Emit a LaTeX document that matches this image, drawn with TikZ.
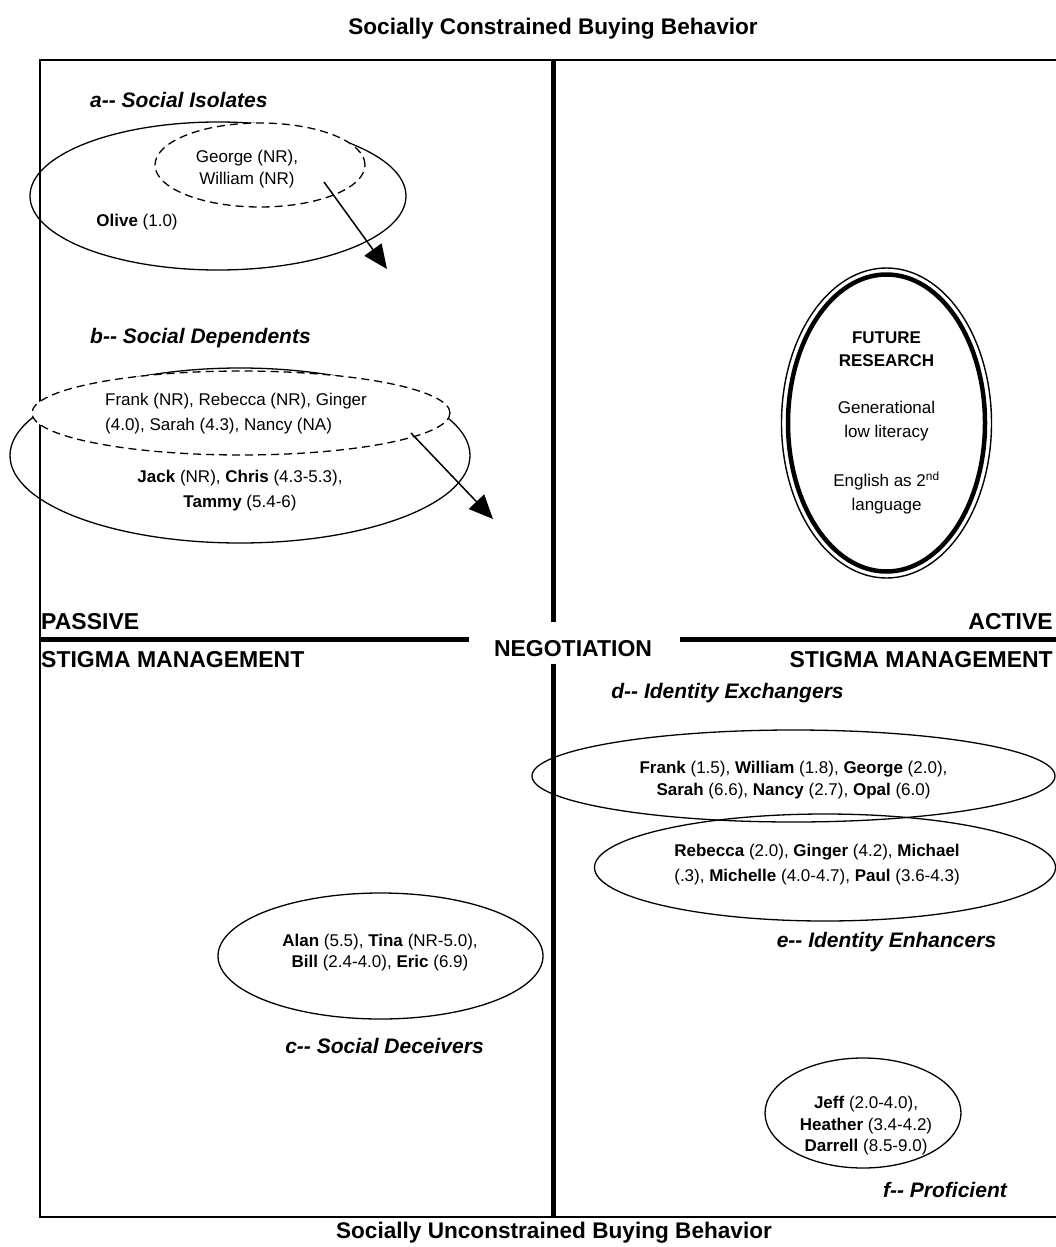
\documentclass[tikz,border=0pt]{standalone}
\usepackage{fontspec}
\setmainfont{Liberation Sans}
\usetikzlibrary{shapes.geometric,arrows.meta}
\tikzset{
 ell/.style={ellipse, draw, line width=1.3pt, inner sep=0pt, outer sep=0pt},
 dashedell/.style={ell, dash pattern=on 8pt off 5pt, fill=white},
 body/.style={font=\fontsize{17}{22}\selectfont, align=center, inner sep=0pt},
 grp/.style={font=\fontsize{21}{25}\selectfont\bfseries\itshape, inner sep=0pt},
 axislbl/.style={font=\fontsize{23}{27}\selectfont\bfseries, inner sep=0pt},
 ttl/.style={font=\fontsize{22.6}{27}\selectfont\bfseries, inner sep=0pt},
 arr/.style={line width=1.5pt, -{Triangle[length=24pt,width=21pt]}},
 heavy/.style={line width=5pt},
 framel/.style={line width=1.6pt},
}
\begin{document}
\begin{tikzpicture}[x=1pt,y=-1pt]
\useasboundingbox (0,0) rectangle (1056,1247);
% frame
\coordinate (fTR) at (1056,60);
\coordinate (fTL) at (40,60);
\coordinate (fBL) at (40,1217);
\coordinate (fBR) at (1056,1217);
\draw[framel] (fTR) -- (fTL) -- (fBL) -- (fBR);
% axes
\coordinate (vT) at (553,60);
\coordinate (vM1) at (553,622);
\coordinate (vM2) at (553,664);
\coordinate (vB) at (553,1217);
\draw[heavy] (vT) -- (vM1);
\draw[heavy] (vM2) -- (vB);
\coordinate (hL) at (40,639);
\coordinate (hM1) at (469,639);
\coordinate (hM2) at (680,639);
\coordinate (hR) at (1056,639);
\draw[heavy] (hL) -- (hM1);
\draw[heavy] (hM2) -- (hR);
% titles
\node[ttl] (ttop) at (553,29) {Socially Constrained Buying Behavior};
\node[ttl] (tbot) at (554,1233) {Socially Unconstrained Buying Behavior};
% axis labels
\node[axislbl, anchor=base west] (passive) at (41,629) {PASSIVE};
\node[axislbl, anchor=base west] (stigL) at (41,667) {STIGMA MANAGEMENT};
\node[axislbl, anchor=base] (nego) at (573,656) {NEGOTIATION};
\node[axislbl, anchor=base east] (active) at (1053,629) {ACTIVE};
\node[axislbl, anchor=base east] (stigR) at (1053,667) {STIGMA MANAGEMENT};
% a -- social isolates
\node[grp, anchor=base west] (ga) at (90,107) {a-{}- Social Isolates};
\node[ell, minimum width=376pt, minimum height=148pt] (ea) at (218,196) {};
\node[dashedell, minimum width=210pt, minimum height=84pt] (eaD) at (260,165) {};
\node[body] (ta) at (247,169) {George (NR),\\William (NR)};
\node[body] (tolive) at (137,222) {\textbf{Olive} (1.0)};
\coordinate (aS) at (324,182);
\coordinate (aE) at (387,269);
\draw[arr] (aS) -- (aE);
% b -- social dependents
\node[grp, anchor=base west] (gb) at (90,343) {b-{}- Social Dependents};
\node[ell, minimum width=460pt, minimum height=175pt] (eb) at (240,455.5) {};
\node[dashedell, minimum width=418pt, minimum height=84pt] (ebD) at (241,413) {};
\node[body, font=\fontsize{17}{25}\selectfont, align=left, anchor=west] (tbD) at (105,414) {Frank (NR), Rebecca (NR), Ginger\\(4.0), Sarah (4.3), Nancy (NA)};
\node[body, font=\fontsize{17}{25}\selectfont] (tb) at (240,491) {\textbf{Jack} (NR), \textbf{Chris} (4.3-5.3),\\\textbf{Tammy} (5.4-6)};
\coordinate (bS) at (411,433);
\coordinate (bE) at (493,519);
\draw[arr] (bS) -- (bE);
% future research
\node[ellipse, draw, line width=1.4pt, inner sep=0pt, minimum width=210pt, minimum height=310pt] (efO) at (886.5,423) {};
\node[ellipse, draw, line width=4.5pt, inner sep=0pt, minimum width=197pt, minimum height=297pt] (efI) at (886.5,423) {};
\node[body, font=\fontsize{17}{23}\selectfont\bfseries] (tf1) at (886.5,349) {FUTURE\\RESEARCH};
\node[body, font=\fontsize{17}{24}\selectfont] (tf2) at (886.5,421) {Generational\\low literacy};
\node[body, font=\fontsize{17}{24}\selectfont] (tf3) at (886.5,493) {English as 2\textsuperscript{nd}\\language};
% d -- identity exchangers
\node[grp] (gd) at (727.5,693) {d-{}- Identity Exchangers};
\node[ell, minimum width=523pt, minimum height=92pt] (ed) at (793.5,776) {};
\node[ell, minimum width=461pt, minimum height=107pt] (ee) at (825,867.5) {};
\node[body] (td) at (793.5,780) {\textbf{Frank} (1.5), \textbf{William} (1.8), \textbf{George} (2.0),\\\textbf{Sarah} (6.6), \textbf{Nancy} (2.7), \textbf{Opal} (6.0)};
\node[body, font=\fontsize{17}{25}\selectfont] (te) at (817,865) {\textbf{Rebecca} (2.0), \textbf{Ginger} (4.2), \textbf{Michael}\\(.3), \textbf{Michelle} (4.0-4.7), \textbf{Paul} (3.6-4.3)};
\node[grp] (ge) at (886.5,942) {e-{}- Identity Enhancers};
% c -- social deceivers
\node[ell, minimum width=325pt, minimum height=126pt] (ec) at (380.5,956) {};
\node[body, font=\fontsize{17}{21}\selectfont] (tc) at (380,953) {\textbf{Alan} (5.5), \textbf{Tina} (NR-5.0),\\\textbf{Bill} (2.4-4.0), \textbf{Eric} (6.9)};
\node[grp] (gc) at (384.5,1046) {c-{}- Social Deceivers};
% f -- proficient
\node[ell, minimum width=196pt, minimum height=110pt] (ef) at (863,1113) {};
\node[body, font=\fontsize{17}{21.5}\selectfont] (tff) at (866,1126) {\textbf{Jeff} (2.0-4.0),\\\textbf{Heather} (3.4-4.2)\\\textbf{Darrell} (8.5-9.0)};
\node[grp] (gf) at (945,1190) {f-{}- Proficient};
\end{tikzpicture}
\end{document}
